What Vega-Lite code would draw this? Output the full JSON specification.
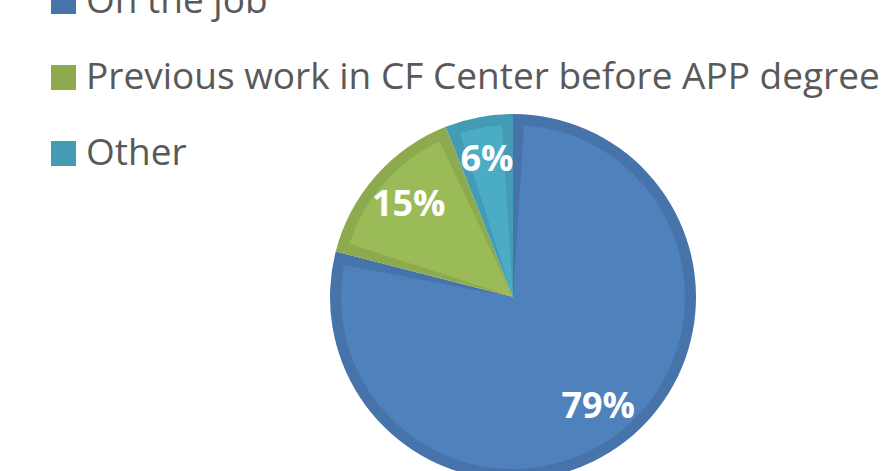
{
  "$schema": "https://vega.github.io/schema/vega-lite/v6.json",
  "width": 764,
  "height": 348,
  "autosize": "none",
  "padding": {"left": 131, "top": 123, "right": 0, "bottom": 0},
  "background": "white",
  "config": {"view": {"stroke": null}},
  "data": {
    "values": [
      {"label": "On the job", "value": 79, "idx": 1, "pct": "79%"},
      {"label": "Previous work in CF Center before APP degree", "value": 15, "idx": 2, "pct": "15%"},
      {"label": "Other", "value": 6, "idx": 3, "pct": "6%"}
    ]
  },
  "encoding": {
    "theta": {"field": "value", "type": "quantitative", "stack": true},
    "order": {"field": "idx", "type": "quantitative"}
  },
  "layer": [
    {
      "mark": {"type": "arc", "outerRadius": 183},
      "encoding": {
        "color": {
          "field": "label",
          "type": "nominal",
          "sort": ["On the job", "Previous work in CF Center before APP degree", "Other"],
          "scale": {
            "domain": ["On the job", "Previous work in CF Center before APP degree", "Other"],
            "range": ["#4673AA", "#8DAA4F", "#449BB4"]
          },
          "legend": {
            "title": null,
            "orient": "none",
            "legendX": -86,
            "legendY": -140,
            "padding": 0,
            "symbolType": "square",
            "symbolSize": 625,
            "symbolStrokeWidth": 0,
            "labelFont": "Open Sans",
            "labelFontSize": 37,
            "labelColor": "#595959",
            "labelLimit": 1000,
            "labelOffset": 4,
            "rowPadding": 38
          }
        }
      }
    },
    {
      "mark": {"type": "arc", "outerRadius": 172, "padAngle": 0.128},
      "encoding": {
        "color": {
          "field": "label",
          "type": "nominal",
          "scale": {
            "domain": ["On the job", "Previous work in CF Center before APP degree", "Other"],
            "range": ["#4F81BD", "#9BBB59", "#4BACC6"]
          },
          "legend": null
        }
      }
    },
    {
      "mark": {"type": "text", "radius": 139, "font": "Open Sans", "fontWeight": "bold", "fontSize": 36, "fill": "white", "align": "center", "baseline": "middle"},
      "encoding": {
        "text": {"field": "pct", "type": "nominal"}
      }
    }
  ],
  "resolve": {"scale": {"color": "independent"}}
}
